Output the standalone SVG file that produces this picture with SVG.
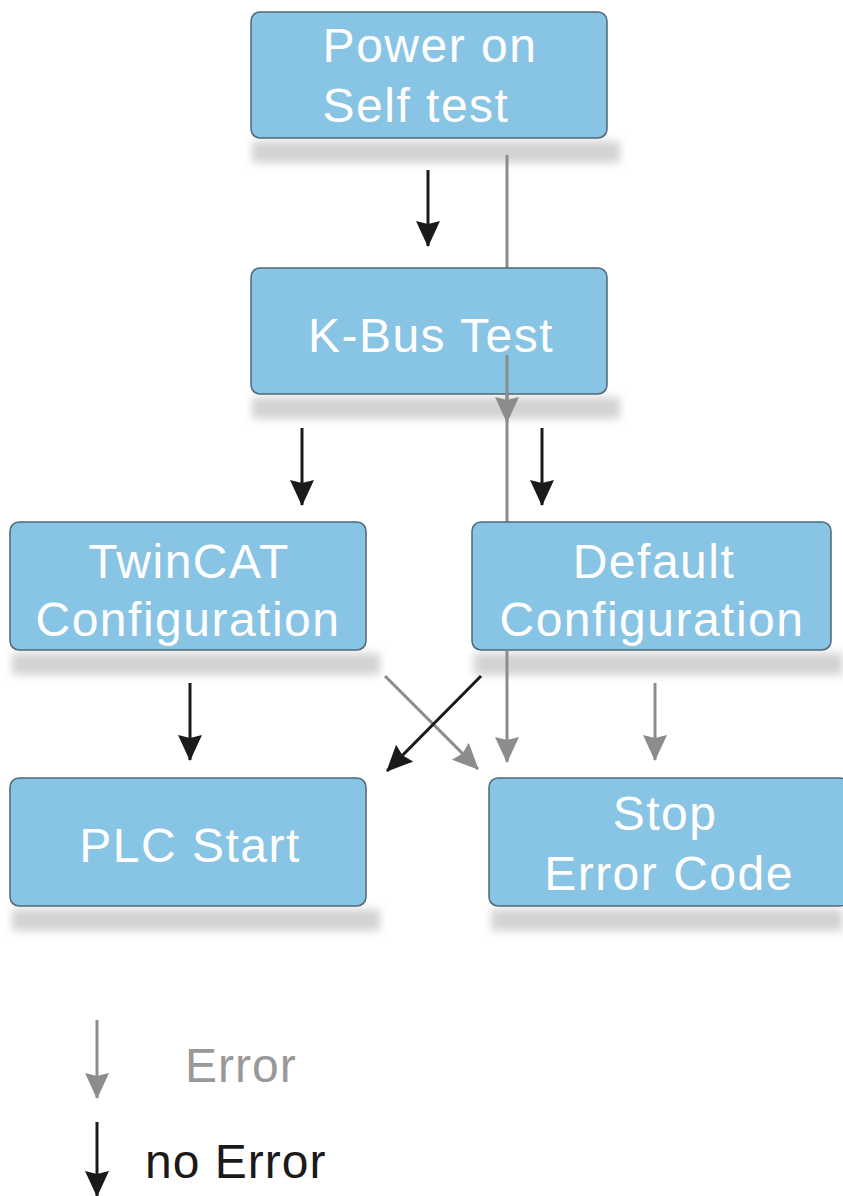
<svg xmlns="http://www.w3.org/2000/svg" width="843" height="1196" viewBox="0 0 843 1196">
<defs>
<filter id="blur" x="-10%" y="-60%" width="120%" height="220%"><feGaussianBlur stdDeviation="4"/></filter>
<marker id="ab" viewBox="0 0 26 24" refX="25" refY="12" markerWidth="26" markerHeight="24" markerUnits="userSpaceOnUse" orient="auto"><path d="M0,0 L26,12 L0,24 L3,12 Z" fill="#1a1a1a"/></marker>
<marker id="ag" viewBox="0 0 26 24" refX="25" refY="12" markerWidth="26" markerHeight="24" markerUnits="userSpaceOnUse" orient="auto"><path d="M0,0 L26,12 L0,24 L3,12 Z" fill="#8c8c8c"/></marker>
</defs>
<style>
.box{fill:#88c4e4;stroke:#4d6877;stroke-width:1.5}
.sh{fill:#d3d3d3;filter:url(#blur)}
.t{font-family:"Liberation Sans",Arial,sans-serif;font-size:48px;fill:#ffffff;text-anchor:middle;letter-spacing:1.5px}
.blk{stroke:#1a1a1a;stroke-width:3;fill:none}
.gry{stroke:#8c8c8c;stroke-width:3;fill:none}
.leg{font-family:"Liberation Sans",Arial,sans-serif;font-size:48px;letter-spacing:1px}
</style>
<g id="shadows">
<rect class="sh" x="252" y="141" width="368" height="22"/>
<rect class="sh" x="252" y="397" width="368" height="22"/>
<rect class="sh" x="12" y="653" width="368" height="22"/>
<rect class="sh" x="474" y="653" width="369" height="22"/>
<rect class="sh" x="12" y="909" width="368" height="22"/>
<rect class="sh" x="491" y="909" width="352" height="22"/>
</g>
<g id="connectors-back">
<line class="gry" x1="507" y1="155" x2="507" y2="522"/>
</g>
<g id="node-power">
<rect class="box" x="251" y="12" width="356" height="126" rx="9"/>
<text class="t" x="430" y="62">Power on</text>
<text class="t" x="416" y="122">Self test</text>
</g>
<g id="node-kbus">
<rect class="box" x="251" y="268" width="356" height="126" rx="9"/>
<text class="t" x="431" y="352">K-Bus Test</text>
</g>
<g id="node-twincat">
<rect class="box" x="10" y="522" width="356" height="128" rx="9"/>
<text class="t" x="189" y="578">TwinCAT</text>
<text class="t" x="188" y="636">Configuration</text>
</g>
<g id="node-default">
<rect class="box" x="472" y="522" width="359" height="128" rx="9"/>
<text class="t" x="654" y="578">Default</text>
<text class="t" x="652" y="636">Configuration</text>
</g>
<g id="node-plc">
<rect class="box" x="10" y="778" width="356" height="128" rx="9"/>
<text class="t" x="190" y="862">PLC Start</text>
</g>
<g id="node-stop">
<rect class="box" x="489" y="778" width="360" height="128" rx="9"/>
<text class="t" x="665" y="830">Stop</text>
<text class="t" x="669" y="890">Error Code</text>
</g>
<g id="connectors">
<line class="gry" x1="507" y1="355" x2="507" y2="422" marker-end="url(#ag)"/>
<line class="blk" x1="428" y1="170" x2="428" y2="246" marker-end="url(#ab)"/>
<line class="blk" x1="302" y1="428" x2="302" y2="505" marker-end="url(#ab)"/>
<line class="blk" x1="542" y1="428" x2="542" y2="505" marker-end="url(#ab)"/>
<line class="blk" x1="190" y1="683" x2="190" y2="760" marker-end="url(#ab)"/>
<line class="gry" x1="385" y1="676" x2="478" y2="769" marker-end="url(#ag)"/>
<line class="blk" x1="481" y1="676" x2="387" y2="771" marker-end="url(#ab)"/>
<line class="gry" x1="507" y1="650" x2="507" y2="762" marker-end="url(#ag)"/>
<line class="gry" x1="655" y1="683" x2="655" y2="760" marker-end="url(#ag)"/>
</g>
<g id="legend">
<line class="gry" x1="97" y1="1020" x2="97" y2="1098" marker-end="url(#ag)"/>
<text class="leg" x="185" y="1082" fill="#999999">Error</text>
<line class="blk" x1="97" y1="1122" x2="97" y2="1196" marker-end="url(#ab)"/>
<text class="leg" x="145" y="1178" fill="#1a1a1a">no Error</text>
</g>
</svg>
